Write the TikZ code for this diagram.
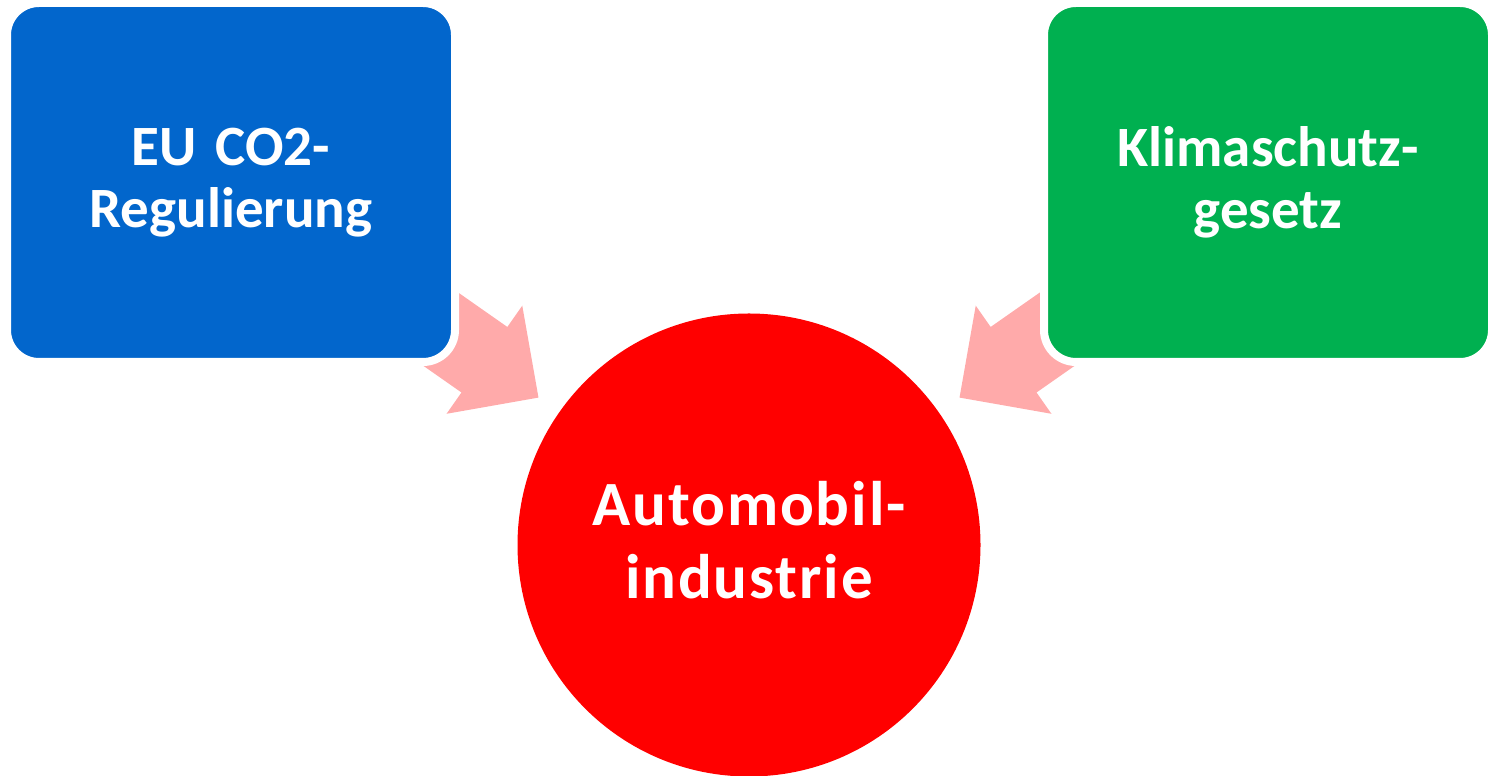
\documentclass[tikz,border=0pt]{standalone}
\usepackage{fontspec}
\setmainfont{Carlito}
\usetikzlibrary{positioning}
\definecolor{boxblue}{RGB}{2,102,204}
\definecolor{boxgreen}{RGB}{0,176,80}
\definecolor{arrowpink}{RGB}{255,170,170}
\tikzset{
  %define style for the two boxes on top
  ursache/.style={
    rectangle,
    rounded corners=32pt,
    draw=white, line width=8pt,
    minimum width=448pt,
    minimum height=359pt,
    text width=420pt,
    align=center,
    text=white,
    font=\fontsize{57}{62}\selectfont\bfseries},
  %define style for the circle
  ziel/.style={
    circle,
    fill=red,
    minimum size=463pt,
    inner sep=0pt,
    text width=420pt,
    text depth=83pt,
    align=center,
    text=white,
    font=\fontsize{63}{73}\selectfont\bfseries\addfontfeature{LetterSpace=3}},
  %define style for the block arrows
  blockpfeil/.style={
    fill=arrowpink}
}

\begin{document}
\begin{tikzpicture}[x=1pt, y=1pt]
\useasboundingbox (0,0) rectangle (1491,776);

%circle first, the arrows point at it
\node[ziel] (auto) at (749,231) {Automobil-\\industrie};

\path (auto.center) ++(145:257pt) coordinate (spitzeEU);
\path (auto.center) ++(35:257pt) coordinate (spitzeKS);

%arrows, tails end under the boxes
\fill[blockpfeil, shift={(spitzeEU)}, rotate=-35]
  (0,0) -- (-66,66) -- (-66,40) -- (-150,40) -- (-150,-40) -- (-66,-40) -- (-66,-66) -- cycle;
\fill[blockpfeil, shift={(spitzeKS)}, rotate=215]
  (0,0) -- (-66,66) -- (-66,40) -- (-150,40) -- (-150,-40) -- (-66,-40) -- (-66,-66) -- cycle;

%boxes
\node[ursache, fill=boxblue] (eu) at (231,593.5) {EU CO2-\\Regulierung};
\node[ursache, fill=boxgreen] (ks) at (1268,593.5) {Klimaschutz-\\gesetz};

\end{tikzpicture}
\end{document}
